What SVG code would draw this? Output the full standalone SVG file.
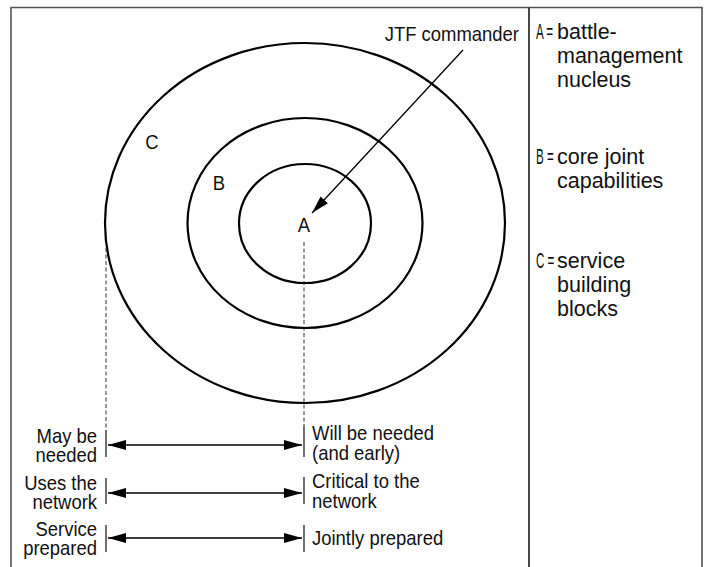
<svg xmlns="http://www.w3.org/2000/svg" width="705" height="567" viewBox="0 0 705 567">
<defs>
<marker id="ah" markerWidth="18" markerHeight="10" refX="18" refY="5" orient="auto-start-reverse" markerUnits="userSpaceOnUse">
<path d="M0,0 L18,5 L0,10 Z" fill="#000"/>
</marker>
</defs>
<style>
text{font-family:"Liberation Sans",Arial,sans-serif;font-size:20.5px;fill:#111}
.lg text{font-size:21.5px}
.ring{fill:none;stroke:#000;stroke-width:2.2}
.dash{stroke:#333;stroke-width:1;stroke-dasharray:4,2.5}
.tick{stroke:#222;stroke-width:1.3}
.arr{stroke:#000;stroke-width:1.3;fill:none}
.r{text-anchor:end}
.m{text-anchor:middle}
</style>
<rect x="0" y="0" width="705" height="567" fill="#fff"/>
<g id="frame">
<path d="M11,580 V7.5 H702 V580" fill="none" stroke="#555" stroke-width="1.6"/>
<line x1="529" y1="7.5" x2="529" y2="580" stroke="#333" stroke-width="1.8"/>
</g>
<g id="ringC"><ellipse class="ring" cx="305" cy="223" rx="200" ry="180"/><g transform="scale(0.9,1)"><text x="168.9" y="149" class="m">C</text></g></g>
<g id="ringB"><ellipse class="ring" cx="305" cy="223" rx="117.5" ry="105"/><g transform="scale(0.9,1)"><text x="243.3" y="190" class="m">B</text></g></g>
<g id="ringA"><ellipse class="ring" cx="305" cy="223.5" rx="66" ry="59.5"/><g transform="scale(0.9,1)"><text x="337.8" y="232" class="m">A</text></g></g>
<g id="jtf" transform="scale(0.9,1)"><text x="576.7" y="41" class="r">JTF commander</text></g>
<g id="legend" class="lg">
<text transform="translate(536,39) scale(0.54,1)">A =</text>
<text x="557" y="39">battle-<tspan x="557" y="63">management</tspan><tspan x="557" y="87">nucleus</tspan></text>
<text transform="translate(536,164) scale(0.54,1)">B =</text>
<text x="557" y="164">core joint<tspan x="557" y="188">capabilities</tspan></text>
<text transform="translate(536,268) scale(0.54,1)">C =</text>
<text x="557" y="268">service<tspan x="557" y="292">building</tspan><tspan x="557" y="316">blocks</tspan></text>
</g>
<g id="labels" transform="scale(0.9,1)">
<text x="107.8" y="443" class="r">May be<tspan x="107.8" y="462">needed</tspan></text>
<text x="107.8" y="490" class="r">Uses the<tspan x="107.8" y="509">network</tspan></text>
<text x="107.8" y="536" class="r">Service<tspan x="107.8" y="555">prepared</tspan></text>
<text x="346.7" y="440">Will be needed<tspan x="346.7" y="460">(and early)</tspan></text>
<text x="346.7" y="488">Critical to the<tspan x="346.7" y="508">network</tspan></text>
<text x="346.7" y="545">Jointly prepared</text>
</g>
<g id="connectors">
<line class="arr" x1="463" y1="50" x2="312" y2="213" marker-end="url(#ah)"/>
<line class="dash" x1="106" y1="248" x2="106" y2="430"/>
<line class="dash" x1="304" y1="242" x2="304" y2="426"/>
<line class="tick" x1="106" y1="430" x2="106" y2="457"/>
<line class="tick" x1="106" y1="478" x2="106" y2="504"/>
<line class="tick" x1="106" y1="525" x2="106" y2="552"/>
<line class="tick" x1="304" y1="426" x2="304" y2="457"/>
<line class="tick" x1="304" y1="477" x2="304" y2="504"/>
<line class="tick" x1="304" y1="525" x2="304" y2="552"/>
<line class="arr" x1="108" y1="445" x2="302" y2="445" marker-start="url(#ah)" marker-end="url(#ah)"/>
<line class="arr" x1="108" y1="493" x2="302" y2="493" marker-start="url(#ah)" marker-end="url(#ah)"/>
<line class="arr" x1="108" y1="538" x2="302" y2="538" marker-start="url(#ah)" marker-end="url(#ah)"/>
</g>
</svg>
